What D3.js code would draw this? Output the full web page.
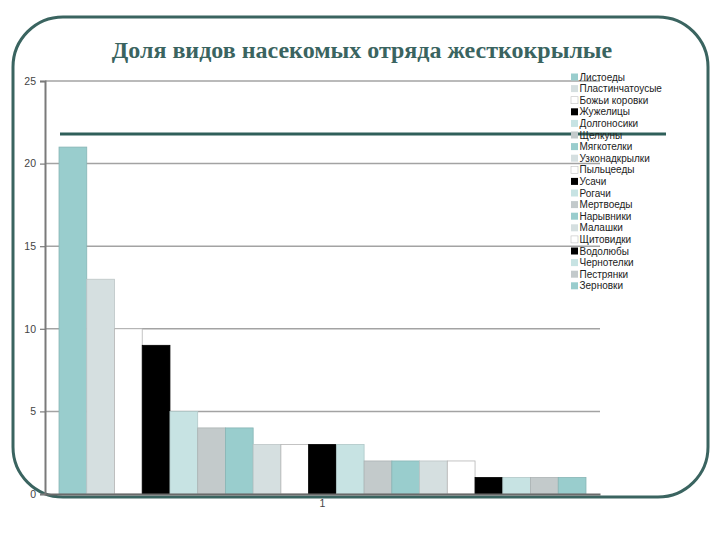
<!DOCTYPE html>
<html>
<head>
<meta charset="utf-8">
<script src="https://cdn.jsdelivr.net/npm/d3@7"></script>
<style>
  html, body { margin: 0; padding: 0; background: #fff; }
  svg { display: block; }
</style>
</head>
<body>
<svg id="chart" width="720" height="540"></svg>
<script>
const title = "Доля видов насекомых отряда жесткокрылые";
const groups = ["1"];
const categories = ["Листоеды","Пластинчатоусые","Божьи коровки","Жужелицы","Долгоносики","Щелкуны","Мягкотелки","Узконадкрылки","Пыльцееды","Усачи","Рогачи","Мертвоеды","Нарывники","Малашки","Щитовидки","Водолюбы","Чернотелки","Пестрянки","Зерновки"];
const values = [21,13,10,9,5,4,4,3,3,3,3,2,2,2,2,1,1,1,1];
const palette = ["#99cdcd","#d5dfe0","#ffffff","#000000","#c7e3e3","#c3cacb"];
const yTicks = [0,5,10,15,20,25];

const svg = d3.select("#chart");

// slide frame
const fx = 13, fy = 17, fw = 695, fh = 480, fr = 50;
svg.append("rect").attr("x", fx).attr("y", fy).attr("width", fw).attr("height", fh)
  .attr("rx", fr).attr("ry", fr).attr("fill", "none").attr("stroke", "#3a6460").attr("stroke-width", 3);

// title
svg.append("text").attr("x", 362).attr("y", 58).attr("text-anchor", "middle")
  .attr("font-family", "'Liberation Serif', 'Times New Roman', serif").attr("font-weight", "bold")
  .attr("font-size", 24).attr("fill", "#3a6460").text(title);

const pLeft = 45, pRight = 600, pTop = 81, pBottom = 494;
const y = d3.scaleLinear().domain([0, 25]).range([pBottom, pTop]);
const x0 = d3.scaleBand().domain(groups).range([pLeft, pRight]).paddingInner(0).paddingOuter(0.0266);
const x1 = d3.scaleBand().domain(categories).range([0, x0.bandwidth()]);
const color = d3.scaleOrdinal().domain(categories).range(palette);

// gridlines
svg.append("g").selectAll("line").data(yTicks.filter(d => d > 0)).join("line")
  .attr("x1", pLeft).attr("x2", pRight).attr("y1", d => y(d)).attr("y2", d => y(d))
  .attr("stroke", "#a3a3a3").attr("stroke-width", 1.5);

// bars
const data = categories.map((c, i) => ({ c, v: values[i], g: groups[0] }));
svg.append("g").selectAll("rect").data(data).join("rect")
  .attr("x", d => x0(d.g) + x1(d.c))
  .attr("y", d => y(d.v))
  .attr("width", x1.bandwidth())
  .attr("height", d => y(0) - y(d.v))
  .attr("fill", d => color(d.c))
  .attr("stroke", d => { const c = color(d.c); return c === "#ffffff" ? "#b5b5b5" : (c === "#000000" ? "#000" : d3.color(c).darker(0.35)); })
  .attr("stroke-width", 0.8);

// y axis
const yAxis = d3.axisLeft(y).tickValues(yTicks).tickSize(5).tickPadding(4);
const gy = svg.append("g").attr("transform", `translate(${pLeft},0)`).call(yAxis);
gy.select(".domain").attr("stroke", "#7a7a7a").attr("stroke-width", 2);
gy.selectAll(".tick line").attr("stroke", "#7a7a7a").attr("stroke-width", 1.2);
gy.selectAll(".tick text").attr("font-family", "'Liberation Sans', Arial, sans-serif").attr("font-size", 10.5).attr("fill", "#444");

// x axis
const xAxis = d3.axisBottom(x0).tickSize(0).tickPadding(6);
const gx = svg.append("g").attr("transform", `translate(0,${pBottom})`).call(xAxis);
gx.select(".domain").attr("stroke", "#6a6a6a").attr("stroke-width", 2);
gx.selectAll(".tick text").attr("font-family", "'Liberation Sans', Arial, sans-serif").attr("font-size", 10.5).attr("fill", "#444");

// decorative separator line of the slide
svg.append("line").attr("x1", 60).attr("x2", 666).attr("y1", 134).attr("y2", 134)
  .attr("stroke", "#2f5f5a").attr("stroke-width", 3);

// legend
const lg = svg.append("g").attr("transform", "translate(571,77)");
const items = lg.selectAll("g").data(categories).join("g")
  .attr("transform", (d, i) => `translate(0,${i * 11.6})`);
items.append("rect").attr("x", 0).attr("y", -3.5).attr("width", 7).attr("height", 7)
  .attr("fill", d => color(d))
  .attr("stroke", d => color(d) === "#ffffff" ? "#c0c0c0" : "none").attr("stroke-width", 0.6);
items.append("text").attr("x", 8.5).attr("y", 3.6)
  .attr("font-family", "'Liberation Sans', Arial, sans-serif").attr("font-size", 10).attr("fill", "#222")
  .text(d => d);
</script>
</body>
</html>
